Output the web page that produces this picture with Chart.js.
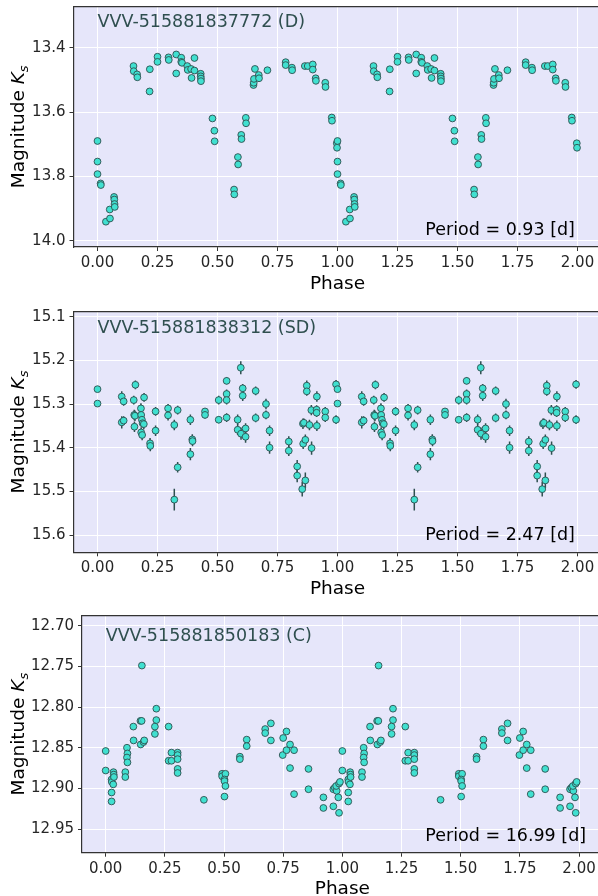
<!DOCTYPE html>
<html>
<head>
<meta charset="utf-8">
<script src="https://cdn.jsdelivr.net/npm/chart.js@4.4.1/dist/chart.umd.min.js"></script>
<style>
  html, body { margin: 0; padding: 0; background: #fff; overflow: hidden; width: 598px; height: 896px; }
  .panel { position: absolute; left: 0; width: 610px; }
  canvas { display: block; }
</style>
</head>
<body>
<div class="panel" style="top:0;height:300px"><canvas id="lcD" width="610" height="300"></canvas></div>
<div class="panel" style="top:300px;height:300px"><canvas id="lcSD" width="610" height="300"></canvas></div>
<div class="panel" style="top:600px;height:296px"><canvas id="lcC" width="610" height="296"></canvas></div>
<script>
const xTicks = [0, 0.25, 0.5, 0.75, 1, 1.25, 1.5, 1.75, 2];

// VVV-515881837772, detached binary, P = 0.93 d
const phaseD = [0.000, 0.000, 0.000, 0.013, 0.014, 0.035, 0.052, 0.051, 0.069, 0.070, 0.071, 0.072,
  0.150, 0.151, 0.165, 0.166, 0.218, 0.217, 0.250, 0.250, 0.296, 0.297, 0.328, 0.328, 0.349, 0.349,
  0.352, 0.374, 0.376, 0.390, 0.392, 0.404, 0.404, 0.430, 0.430, 0.431, 0.431, 0.479, 0.487, 0.488,
  0.569, 0.570, 0.585, 0.586, 0.599, 0.600, 0.618, 0.619, 0.650, 0.651, 0.652, 0.656, 0.672, 0.673,
  0.708, 0.784, 0.784, 0.810, 0.811, 0.864, 0.876, 0.897, 0.897, 0.909, 0.910, 0.949, 0.950, 0.976,
  0.977, 0.997, 0.998];
const magD = [13.690, 13.754, 13.793, 13.822, 13.827, 13.941, 13.931, 13.903, 13.864, 13.872, 13.886, 13.895,
  13.457, 13.473, 13.483, 13.492, 13.467, 13.536, 13.428, 13.444, 13.430, 13.438, 13.421, 13.480, 13.431, 13.444,
  13.447, 13.457, 13.469, 13.466, 13.494, 13.432, 13.471, 13.481, 13.489, 13.496, 13.504, 13.620, 13.658, 13.691,
  13.841, 13.856, 13.740, 13.763, 13.671, 13.684, 13.618, 13.635, 13.516, 13.509, 13.497, 13.466, 13.485, 13.495,
  13.470, 13.445, 13.454, 13.462, 13.470, 13.457, 13.457, 13.452, 13.468, 13.495, 13.503, 13.509, 13.522, 13.617,
  13.627, 13.697, 13.711];
const yTicksD = [13.4, 13.6, 13.8, 14.0];

// VVV-515881838312, semi-detached, P = 2.47 d
const phaseSD = [0.000, 0.000, 0.101, 0.101, 0.109, 0.109, 0.158, 0.151, 0.153, 0.156, 0.154, 0.181,
  0.182, 0.185, 0.188, 0.182, 0.186, 0.194, 0.193, 0.219, 0.220, 0.242, 0.242, 0.294, 0.294, 0.320,
  0.320, 0.334, 0.334, 0.387, 0.387, 0.395, 0.396, 0.448, 0.448, 0.505, 0.505, 0.538, 0.538, 0.538,
  0.538, 0.584, 0.584, 0.597, 0.605, 0.605, 0.598, 0.617, 0.617, 0.659, 0.659, 0.702, 0.702, 0.717,
  0.717, 0.797, 0.797, 0.832, 0.832, 0.853, 0.866, 0.857, 0.866, 0.856, 0.860, 0.872, 0.872, 0.883,
  0.891, 0.892, 0.914, 0.913, 0.913, 0.914, 0.949, 0.949, 0.994, 0.994];
const magSD = [15.266, 15.299, 15.283, 15.342, 15.294, 15.338, 15.256, 15.291, 15.325, 15.327, 15.352, 15.310,
  15.325, 15.336, 15.344, 15.365, 15.371, 15.285, 15.346, 15.390, 15.396, 15.317, 15.361, 15.310, 15.326, 15.348,
  15.519, 15.314, 15.445, 15.336, 15.415, 15.381, 15.385, 15.317, 15.325, 15.291, 15.336, 15.247, 15.277, 15.291,
  15.331, 15.336, 15.359, 15.217, 15.264, 15.281, 15.368, 15.356, 15.375, 15.270, 15.332, 15.300, 15.325, 15.361,
  15.400, 15.386, 15.407, 15.443, 15.464, 15.495, 15.475, 15.391, 15.382, 15.345, 15.343, 15.258, 15.271, 15.348,
  15.314, 15.401, 15.283, 15.313, 15.320, 15.350, 15.317, 15.331, 15.255, 15.336];
const errSD = [0.005, 0.005, 0.012, 0.014, 0.010, 0.010, 0.010, 0.010, 0.012, 0.012, 0.012, 0.012,
  0.012, 0.012, 0.010, 0.012, 0.012, 0.010, 0.012, 0.012, 0.012, 0.010, 0.012, 0.010, 0.012, 0.012,
  0.025, 0.010, 0.012, 0.012, 0.014, 0.012, 0.012, 0.008, 0.008, 0.010, 0.008, 0.008, 0.010, 0.010,
  0.010, 0.012, 0.012, 0.015, 0.010, 0.012, 0.014, 0.012, 0.014, 0.010, 0.010, 0.012, 0.010, 0.012,
  0.014, 0.012, 0.012, 0.015, 0.015, 0.017, 0.018, 0.012, 0.012, 0.012, 0.010, 0.012, 0.010, 0.012,
  0.012, 0.015, 0.012, 0.010, 0.010, 0.012, 0.010, 0.010, 0.010, 0.010];
const yTicksSD = [15.1, 15.2, 15.3, 15.4, 15.5, 15.6];

// VVV-515881850183, contact binary, P = 16.99 d
const phaseC = [0.000, 0.000, 0.025, 0.026, 0.033, 0.034, 0.035, 0.032, 0.025, 0.025, 0.083, 0.083,
  0.090, 0.092, 0.090, 0.092, 0.117, 0.118, 0.147, 0.152, 0.153, 0.148, 0.160, 0.163, 0.214, 0.214,
  0.208, 0.208, 0.266, 0.266, 0.278, 0.278, 0.304, 0.304, 0.304, 0.304, 0.304, 0.415, 0.492, 0.492,
  0.506, 0.502, 0.502, 0.506, 0.502, 0.567, 0.567, 0.596, 0.596, 0.674, 0.674, 0.698, 0.698, 0.750,
  0.764, 0.748, 0.764, 0.779, 0.796, 0.779, 0.796, 0.857, 0.857, 0.920, 0.920, 0.962, 0.962, 0.968,
  0.976, 0.974, 0.986, 0.983, 0.986, 0.990];
const magC = [12.854, 12.878, 12.889, 12.892, 12.880, 12.883, 12.886, 12.895, 12.905, 12.916, 12.880, 12.886,
  12.850, 12.857, 12.862, 12.868, 12.824, 12.841, 12.817, 12.817, 12.749, 12.846, 12.843, 12.841, 12.802, 12.816,
  12.824, 12.833, 12.824, 12.866, 12.866, 12.856, 12.856, 12.859, 12.864, 12.876, 12.881, 12.914, 12.882, 12.885,
  12.882, 12.889, 12.891, 12.897, 12.910, 12.861, 12.864, 12.840, 12.848, 12.827, 12.832, 12.820, 12.841, 12.838,
  12.830, 12.859, 12.853, 12.846, 12.853, 12.875, 12.907, 12.876, 12.901, 12.911, 12.924, 12.922, 12.901, 12.899,
  12.903, 12.897, 12.894, 12.911, 12.930, 12.892];
const yTicksC = [12.70, 12.75, 12.80, 12.85, 12.90, 12.95];

const FONT = '"DejaVu Sans", "Liberation Sans", sans-serif';

// phase-folded curve shown over two cycles
function twoCycles(phase, mag, err) {
  const pts = [];
  for (const shift of [0, 1]) {
    phase.forEach((p, i) => pts.push({ x: p + shift, y: mag[i], e: err ? err[i] : 0 }));
  }
  return pts;
}

const panelDecor = {
  id: 'panelDecor',
  beforeDraw(chart) {
    const { ctx, chartArea: a } = chart;
    ctx.save();
    ctx.fillStyle = '#e6e6fa';
    ctx.fillRect(a.left, a.top, a.right - a.left, a.bottom - a.top);
    ctx.restore();
  },
  beforeDatasetsDraw(chart, args, opts) {
    if (!opts.errorBars) return;
    const { ctx, scales: { x, y } } = chart;
    ctx.save();
    ctx.beginPath();
    ctx.rect(chart.chartArea.left, chart.chartArea.top, chart.chartArea.width, chart.chartArea.height);
    ctx.clip();
    ctx.strokeStyle = '#2f4f4f';
    ctx.lineWidth = 1.5;
    chart.data.datasets[0].data.forEach(pt => {
      const px = x.getPixelForValue(pt.x);
      ctx.beginPath();
      ctx.moveTo(px, y.getPixelForValue(pt.y - pt.e));
      ctx.lineTo(px, y.getPixelForValue(pt.y + pt.e));
      ctx.stroke();
    });
    ctx.restore();
  },
  afterDatasetsDraw(chart, args, opts) {
    const { ctx, chartArea: a, scales: { x } } = chart;
    ctx.save();
    // top spine
    ctx.strokeStyle = '#333';
    ctx.lineWidth = 1.2;
    ctx.beginPath();
    ctx.moveTo(a.left, a.top);
    ctx.lineTo(a.right, a.top);
    ctx.stroke();

    ctx.textBaseline = 'alphabetic';
    ctx.textAlign = 'left';
    ctx.font = `17.5px ${FONT}`;
    ctx.fillStyle = '#2f4f4f';
    ctx.fillText(opts.name, x.getPixelForValue(0), opts.nameY);
    ctx.fillStyle = '#000';
    ctx.fillText(opts.period, 425.3, a.bottom - 12);

    // x axis title
    ctx.fillStyle = '#000';
    ctx.textAlign = 'center';
    ctx.font = `18.5px ${FONT}`;
    ctx.fillText('Phase', (a.left + a.right) / 2, a.bottom + 41.5);

    // y axis title: Magnitude K_s
    const size = 18.5;
    ctx.translate(24, (a.top + a.bottom) / 2);
    ctx.rotate(-Math.PI / 2);
    ctx.textAlign = 'left';
    ctx.font = `${size}px ${FONT}`;
    const w1 = ctx.measureText('Magnitude ').width;
    ctx.font = `italic ${size}px ${FONT}`;
    const w2 = ctx.measureText('K').width;
    ctx.font = `italic ${size * 0.7}px ${FONT}`;
    const w3 = ctx.measureText('s').width;
    let sx = -(w1 + w2 + w3) / 2;
    ctx.font = `${size}px ${FONT}`;
    ctx.fillText('Magnitude ', sx, 0);
    sx += w1;
    ctx.font = `italic ${size}px ${FONT}`;
    ctx.fillText('K', sx, 0);
    sx += w2;
    ctx.font = `italic ${size * 0.7}px ${FONT}`;
    ctx.fillText('s', sx, size * 0.2);
    ctx.restore();
  }
};

function makePanel(id, cfg) {
  const canvas = document.getElementById(id);
  return new Chart(canvas, {
    type: 'scatter',
    data: {
      datasets: [{
        data: twoCycles(cfg.phase, cfg.mag, cfg.err),
        pointRadius: 3.4,
        pointBorderWidth: 0.9,
        pointBackgroundColor: '#40e0d0',
        pointBorderColor: '#2f4f4f',
      }],
    },
    options: {
      responsive: false,
      animation: false,
      events: [],
      layout: {
        autoPadding: false,
        padding: { top: cfg.top, left: 0, right: canvas.width - cfg.right, bottom: 0 },
      },
      scales: {
        x: {
          type: 'linear',
          min: -0.1,
          max: 2.1,
          afterBuildTicks: s => { s.ticks = xTicks.map(v => ({ value: v })); },
          afterFit: s => { s.height = canvas.height - cfg.bottom; s.paddingLeft = 0; s.paddingRight = 0; },
          ticks: {
            callback: v => v.toFixed(2),
            font: { family: FONT, size: 15 },
            color: '#262626',
            padding: 3,
            maxRotation: 0,
            autoSkip: false,
          },
          grid: { color: '#fff', lineWidth: 1, tickColor: '#333', tickLength: 4 },
          border: { color: '#333', width: 1.2 },
        },
        y: {
          type: 'linear',
          reverse: true,
          min: cfg.yMin,
          max: cfg.yMax,
          afterBuildTicks: s => { s.ticks = cfg.yTicks.map(v => ({ value: v })); },
          afterFit: s => { s.width = cfg.left; s.paddingTop = 0; s.paddingBottom = 0; },
          ticks: {
            callback: v => v.toFixed(cfg.decimals),
            font: { family: FONT, size: 15 },
            color: '#262626',
            padding: 4,
            autoSkip: false,
          },
          grid: { color: '#fff', lineWidth: 1, tickColor: '#333', tickLength: 4 },
          border: { color: '#333', width: 1.2 },
        },
      },
      plugins: {
        legend: { display: false },
        tooltip: { enabled: false },
        panelDecor: {
          name: cfg.name,
          period: cfg.period,
          nameY: cfg.nameY,
          errorBars: !!cfg.err,
        },
      },
    },
    plugins: [panelDecor],
  });
}

makePanel('lcD', {
  phase: phaseD, mag: magD,
  yMin: 13.2725, yMax: 14.0196, yTicks: yTicksD, decimals: 1,
  top: 6.7, bottom: 247, left: 73.5, right: 601.5,
  name: 'VVV-515881837772 (D)', nameY: 26.5, period: 'Period = 0.93 [d]',
});

makePanel('lcSD', {
  phase: phaseSD, mag: magSD, err: errSD,
  yMin: 15.0886, yMax: 15.6396, yTicks: yTicksSD, decimals: 1,
  top: 11.7, bottom: 252.3, left: 73.5, right: 601.5,
  name: 'VVV-515881838312 (SD)', nameY: 33.3, period: 'Period = 2.47 [d]',
});

makePanel('lcC', {
  phase: phaseC, mag: magC,
  yMin: 12.6877, yMax: 12.979, yTicks: yTicksC, decimals: 2,
  top: 15.7, bottom: 252.7, left: 82, right: 602.7,
  name: 'VVV-515881850183 (C)', nameY: 40.7, period: 'Period = 16.99 [d]',
});
</script>
</body>
</html>
